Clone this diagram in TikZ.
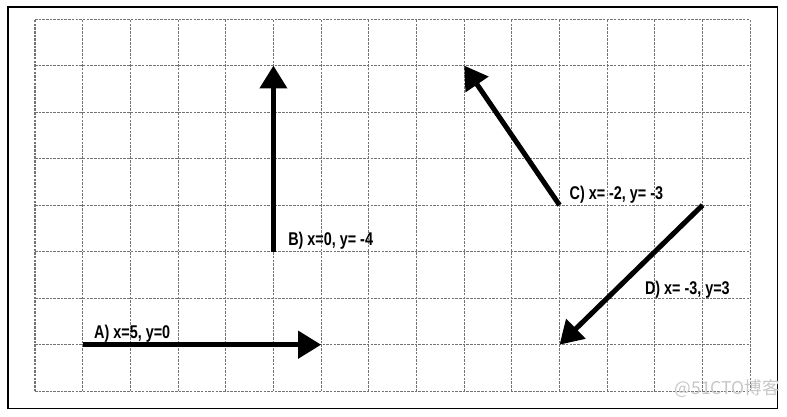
\documentclass[tikz,border=0pt]{standalone}
\usepackage{fontspec}
\usetikzlibrary{arrows.meta,positioning}
\newfontfamily\lblfont[FakeStretch=0.78]{Liberation Sans}
\newfontfamily\cjkfont{Noto Sans CJK SC}
\tikzset{
	vec/.style={line width=3pt, -{Triangle[length=0.48cm,width=0.56cm]}},
	gridline/.style={black!55, dash pattern=on 1.5pt off 0.7pt, line width=0.6pt},
	frame/.style={line width=0.7pt},
	lbl/.style={font=\lblfont\bfseries\fontsize{11}{13}\selectfont, inner sep=1pt},
}
\newcommand{\VecLabel}[3]{\node[lbl, #1] (#2){#3};}

\begin{document}
\begin{tikzpicture}[x=1cm, y=0.9755cm]
\useasboundingbox (-0.734,-0.538) rectangle (15.77,8.41);
	\draw[frame] (-0.566,-0.366) rectangle (15.57,8.26);

	\foreach \i in {0,...,15}
		\draw[gridline] (\i,0) -- (\i,8);
	\foreach \j in {0,...,8}
		\draw[gridline] (0,\j) -- (15,\j);

	\coordinate (A0) at (1,1);
	\coordinate (A1) at (6,1);
	\coordinate (B0) at (5,3);
	\coordinate (B1) at (5,7);
	\coordinate (C0) at (11,4);
	\coordinate (C1) at (9,7);
	\coordinate (D0) at (14,4);
	\coordinate (D1) at (11,1);

	\draw[vec] (A0) -- (A1);
	\draw[vec] (B0) -- (B1);
	\draw[vec] (C0) -- (C1);
	\draw[vec] (D0) -- (D1);

	\VecLabel{above right = 0mm and 2mm of A0}{Alab}{A) x=5, y=0}
	\VecLabel{above right = 0mm and 2.7mm of B0}{Blab}{B) x=0, y= -4}
	\VecLabel{above right = 0mm and 1.7mm of C0}{Clab}{C) x= -2, y= -3}
	\VecLabel{above right = 9.2mm and 17.5mm of D1}{Dlab}{D) x= -3, y=3}

	\node[text=gray!45, font=\cjkfont\fontsize{10.5}{12}\selectfont, inner sep=0pt] (mark) at (14.52,0.06) {@51CTO博客};

\end{tikzpicture}
\end{document}
